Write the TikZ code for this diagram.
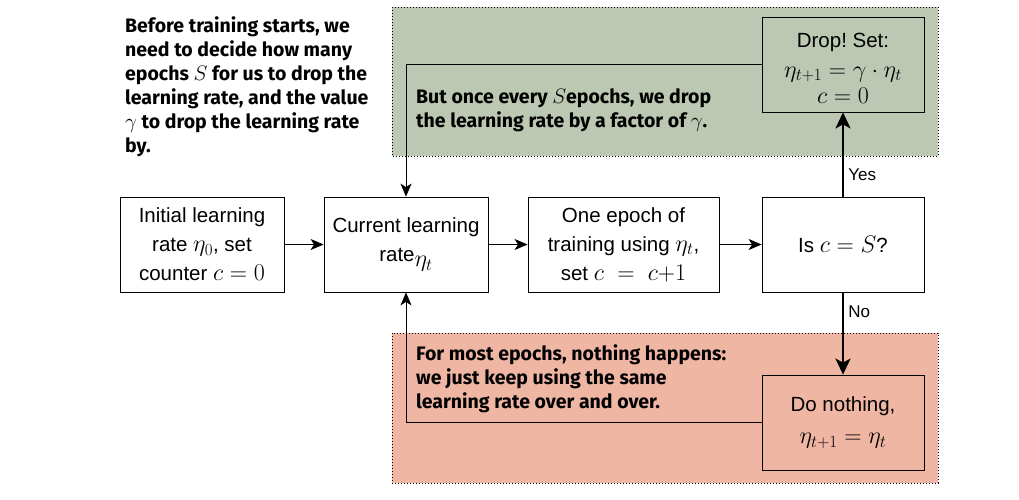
\RequirePackage{fix-cm}
\documentclass[tikz,border=0pt]{standalone}
\usepackage{amsmath}
\usepackage{fontspec}
\setmainfont{Liberation Sans}
\newfontfamily\notefont{Fira Sans}
\usepackage{xcolor}
\usepackage{tikz}
\usetikzlibrary{arrows.meta}
\usetikzlibrary{calc}
\tikzset{>={Stealth[length=13pt,width=11pt,inset=3.5pt]}}
\DeclareMathSizes{20.5}{24}{17}{13}
\DeclareMathSizes{19.5}{21}{15}{12}
\frenchspacing

\definecolor{dropgreen}{RGB}{188,200,178}
\definecolor{keepred}{RGB}{240,182,164}

\tikzset{
  box/.style={draw,line width=0.8pt,minimum height=95pt,inner sep=0pt,align=center,font=\fontsize{20.5}{29}\selectfont},
  note/.style={anchor=north west,align=left,inner sep=0pt,font=\notefont\bfseries\fontsize{19.5}{24}\selectfont},
  region/.style={draw,line width=1pt,dash pattern=on 1pt off 2pt},
  flow/.style={->,line width=0.8pt},
  decide/.style={-{Stealth[length=16pt,width=15pt,inset=4pt]},line width=2.5pt},
}

\begin{document}
\begin{tikzpicture}[line cap=butt,line join=miter,x=1pt,y=-1pt]
  \useasboundingbox (0,0) rectangle (1019,499);
  % shaded regions
  \draw[region,fill=dropgreen] (392,7) rectangle (938,156);
  \draw[region,fill=keepred] (392,333) rectangle (938,483);
  % notes
  \node[note] (before) at (125,16) {Before training starts, we\\need to decide how many\\epochs $S$ for us to drop the\\learning rate, and the value\\$\gamma$ to drop the learning rate\\by.};
  \node[note] (every) at (416,88) {But once every $S$epochs, we drop\\the learning rate by a factor of $\gamma$.};
  \node[note] (most) at (416,344) {For most epochs, nothing happens:\\we just keep using the same\\learning rate over and over.};
  % main row
  \node[box,minimum width=164pt] (init) at (202,244.5) {Initial learning\\rate $\eta_0$, set\\counter $c = 0$};
  \node[box,minimum width=164pt] (cur) at (406,244.5) {Current learning\\rate\raisebox{-5pt}{$\eta_t$}};
  \node[box,minimum width=191pt] (epoch) at (623.5,244.5) {One epoch of\\training using $\eta_t$,\\set $c \;=\; c{+}1$};
  \node[box,minimum width=162pt] (test) at (843,244.5) {Is $c = S$?};
  \node[box,minimum width=162pt] (drop) at (843,64.5) {};
  \node[align=center,font=\fontsize{20.5}{30}\selectfont] (droptxt) at (843,68) {Drop! Set:\\$\eta_{t+1} = \gamma\cdot\eta_t$\\[-4pt]$c = 0$};
  \node[box,minimum width=162pt] (keep) at (843,422.5) {Do nothing,\\[3pt]$\eta_{t+1} = \eta_t$};
  % connectors
  \draw[flow] (init) -- (cur);
  \draw[flow] (cur) -- (epoch);
  \draw[flow] (epoch) -- (test);
  \draw[decide] (test) -- node[pos=0.26,right,inner sep=4pt,font=\fontsize{17}{20}\selectfont] {Yes} (drop);
  \draw[decide] (test) -- node[pos=0.23,right,inner sep=4pt,font=\fontsize{17}{20}\selectfont] {No} (keep);
  \draw[flow] (drop.west) -| (cur.north);
  \draw[flow] (keep.west) -| (cur.south);
\end{tikzpicture}
\end{document}
